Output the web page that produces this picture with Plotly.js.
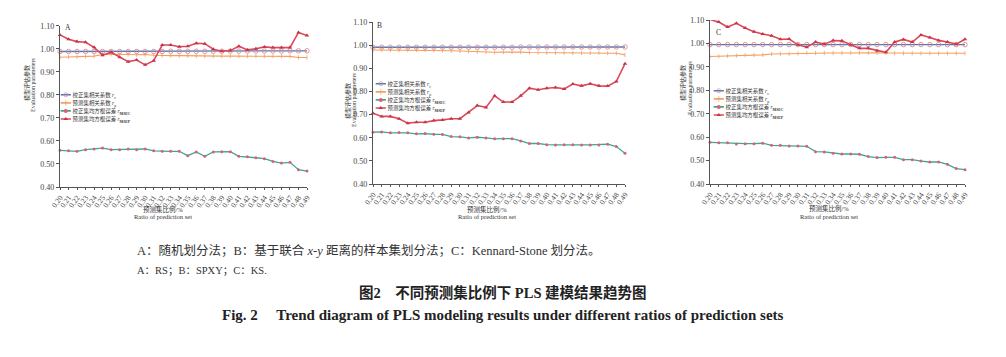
<!DOCTYPE html>
<html><head><meta charset="utf-8">
<script src="https://cdn.plot.ly/plotly-3.0.1.min.js"></script>
<style>html,body{margin:0;padding:0;background:#fff}</style>
</head><body><div id="chart" style="width:1006px;height:357px"></div>
<script>
// ---------------- data ----------------
const ratios = [0.20,0.21,0.22,0.23,0.24,0.25,0.26,0.27,0.28,0.29,0.30,0.31,0.32,0.33,0.34,0.35,0.36,0.37,0.38,0.39,0.40,0.41,0.42,0.43,0.44,0.45,0.46,0.47,0.48,0.49];
const tickLabels = ['0.20','0.21','0.22','0.23','0.24','0.25','0.26','0.27','0.28','0.29','0.30','0.31','0.32','0.33','0.34','0.35','0.36','0.37','0.38','0.39','0.40','0.41','0.42','0.43','0.44','0.45','0.46','0.47','0.48','0.49'];
const yTickVals = [0.40,0.50,0.60,0.70,0.80,0.90,1.00,1.10];

// Panel A: RS
const A_rc   = [0.988,0.988,0.988,0.988,0.988,0.988,0.988,0.988,0.988,0.988,0.988,0.988,0.988,0.989,0.989,0.989,0.989,0.989,0.989,0.989,0.990,0.990,0.990,0.990,0.990,0.990,0.990,0.991,0.991,0.991];
const A_rp   = [0.963,0.965,0.965,0.966,0.968,0.975,0.976,0.975,0.975,0.974,0.975,0.972,0.970,0.970,0.970,0.969,0.968,0.968,0.968,0.968,0.968,0.968,0.968,0.968,0.968,0.968,0.968,0.967,0.962,0.962];
const A_msec = [0.559,0.557,0.555,0.562,0.565,0.569,0.562,0.562,0.565,0.562,0.565,0.557,0.555,0.555,0.555,0.536,0.552,0.533,0.552,0.553,0.553,0.533,0.531,0.527,0.523,0.511,0.504,0.507,0.475,0.469];
const A_msep = [1.060,1.041,1.031,1.028,1.006,0.972,0.985,0.963,0.944,0.951,0.930,0.948,1.016,1.016,1.009,1.011,1.024,1.022,0.998,0.989,0.992,1.011,0.995,1.000,1.008,1.005,1.005,1.005,1.071,1.057];

// Panel B: SPXY
const B_rc   = [0.991,0.991,0.991,0.991,0.991,0.991,0.991,0.991,0.991,0.991,0.991,0.991,0.991,0.991,0.991,0.991,0.991,0.992,0.992,0.992,0.992,0.992,0.992,0.992,0.992,0.992,0.992,0.992,0.992,0.992];
const B_rp   = [0.979,0.979,0.979,0.979,0.979,0.979,0.979,0.978,0.977,0.976,0.975,0.973,0.972,0.971,0.969,0.970,0.971,0.970,0.968,0.968,0.967,0.967,0.967,0.966,0.966,0.966,0.967,0.965,0.965,0.958];
const B_msec = [0.624,0.625,0.621,0.622,0.621,0.617,0.618,0.615,0.614,0.605,0.604,0.599,0.602,0.599,0.595,0.596,0.596,0.586,0.575,0.575,0.570,0.569,0.570,0.570,0.569,0.569,0.569,0.572,0.562,0.533];
const B_msep = [0.706,0.692,0.692,0.682,0.663,0.667,0.667,0.674,0.677,0.682,0.682,0.709,0.739,0.731,0.781,0.754,0.754,0.781,0.814,0.807,0.814,0.817,0.811,0.832,0.824,0.833,0.824,0.823,0.843,0.920];

// Panel C: KS
const C_rc   = [0.995,0.995,0.995,0.995,0.995,0.995,0.995,0.995,0.995,0.995,0.995,0.995,0.995,0.995,0.995,0.995,0.995,0.995,0.995,0.995,0.995,0.995,0.995,0.995,0.995,0.995,0.995,0.995,0.995,0.995];
const C_rp   = [0.944,0.945,0.947,0.948,0.950,0.951,0.951,0.955,0.956,0.956,0.957,0.959,0.959,0.959,0.959,0.959,0.960,0.960,0.960,0.960,0.959,0.958,0.958,0.958,0.958,0.958,0.958,0.958,0.958,0.958];
const C_msec = [0.578,0.576,0.576,0.571,0.572,0.572,0.574,0.565,0.565,0.562,0.562,0.561,0.538,0.537,0.531,0.528,0.528,0.527,0.517,0.513,0.514,0.514,0.504,0.504,0.498,0.494,0.494,0.484,0.466,0.461];
const C_msep = [1.102,1.091,1.070,1.086,1.066,1.050,1.040,1.033,1.018,1.019,0.994,0.984,1.006,0.997,1.012,1.011,0.994,0.979,0.979,0.969,0.962,1.006,1.017,1.006,1.036,1.025,1.013,1.006,0.997,1.018];

const SUB = '<span style="font-size:70%;baseline-shift:sub">';
const seriesNames = [
  '校正集相关系数 <i>r</i>' + SUB + 'c</span>',
  '预测集相关系数 <i>r</i>' + SUB + 'p</span>',
  '校正集均方根误差 <i>r</i>' + SUB + '<b>MSEC</b></span>',
  '预测集均方根误差 <i>r</i>' + SUB + '<b>MSEP</b></span>'
];
const panelLetters = ['A','B','C'];
const xTitleCN = '预测集比例/%';
const xTitleEN = 'Ratio of prediction set';
const yTitleCN = '模型评估参数';
const yTitleEN = 'Evaluation parameters';
const caption1 = 'A：随机划分法；B：基于联合 <i>x</i>-<i>y</i> 距离的样本集划分法；C：Kennard-Stone 划分法。';
const caption2 = 'A：RS；B：SPXY；C：KS.';
const figTitleCN = '<b>图2　不同预测集比例下 PLS 建模结果趋势图</b>';
const figTitleEN = '<b>Fig. 2　 Trend diagram of PLS modeling results under different ratios of prediction sets</b>';

// ---------------- styling ----------------
const W = 1006, H = 357;
const FONT = '"Liberation Serif", "Times New Roman", "Noto Sans CJK SC", serif';
const px = v => v / W;
const py = v => 1 - v / H;
const LEG_SCALE = 0.34;

const styles = [
  {mode:'lines+markers', line:{color:'#4d78bb', width:1.3}, marker:{symbol:'circle-open', size:4.5, color:'#e48888', line:{width:0.9}}},
  {mode:'lines+markers', line:{color:'#f2a062', width:1.1}, marker:{symbol:'line-ns-open', size:3, color:'#f2a062', line:{width:0.8, color:'#f2a062'}}},
  {mode:'lines+markers', line:{color:'#3aab86', width:1.3}, marker:{symbol:'circle', size:3, color:'#d9607a'}},
  {mode:'lines+markers', line:{color:'#dc4a5a', width:1.6}, marker:{symbol:'triangle-up', size:4, color:'#c8344a'}}
];

const panels = [
  {data:[A_rc,A_rp,A_msec,A_msep], xd:[60,307], yd:[25.7,187], leg:[59,89], letter:[68,28], xt:[163,209,217], yt:[27,33,83,85]},
  {data:[B_rc,B_rp,B_msec,B_msep], xd:[373,625], yd:[22,184], leg:[374,78], letter:[379,26], xt:[487,209,217], yt:[348,354,101,100]},
  {data:[C_rc,C_rp,C_msec,C_msep], xd:[710,965], yd:[20,184], leg:[712,85], letter:[718,32], xt:[829,208,217], yt:[683,690,83,88]}
];

const traces = [];
const layout = {
  width: W, height: H,
  margin: {l:0, r:0, t:0, b:0, autoexpand:false},
  paper_bgcolor: '#fff', plot_bgcolor: '#fff',
  showlegend: true,
  font: {family: FONT, color: '#333'},
  annotations: []
};

panels.forEach((p, i) => {
  const s = i === 0 ? '' : String(i + 1);
  const legId = 'legend' + s;
  p.data.forEach((vals, k) => {
    traces.push(Object.assign({
      type: 'scatter', x: ratios, y: vals, name: seriesNames[k],
      xaxis: 'x' + s, yaxis: 'y' + s, legend: legId, cliponaxis: false, hoverinfo: 'skip'
    }, JSON.parse(JSON.stringify(styles[k]))));
  });
  layout['xaxis' + s] = {
    domain: [px(p.xd[0]), px(p.xd[1])], anchor: 'y' + s,
    range: [0.20, 0.49], tickmode: 'array', tickvals: ratios, ticktext: tickLabels,
    tickangle: -55, tickfont: {size: 7.5, family: FONT, color: '#444'},
    showline: true, linecolor: '#555', linewidth: 1.2, ticks: 'outside', ticklen: 2, tickcolor: '#555',
    showgrid: false, zeroline: false, fixedrange: true
  };
  layout['yaxis' + s] = {
    domain: [py(p.yd[1]), py(p.yd[0])], anchor: 'x' + s,
    range: [0.40, 1.10], tickmode: 'array', tickvals: yTickVals, tickformat: '.2f',
    tickfont: {size: 8, family: FONT, color: '#444'},
    showline: true, linecolor: '#555', linewidth: 1.2, ticks: 'outside', ticklen: 3, tickcolor: '#555',
    showgrid: false, zeroline: false, fixedrange: true
  };
  layout[legId] = {
    x: px(p.leg[0]), y: py(p.leg[1]), xanchor: 'left', yanchor: 'top',
    bgcolor: 'rgba(0,0,0,0)', borderwidth: 0, itemsizing: 'constant',
    font: {size: 16, family: FONT, color: '#333'}, tracegroupgap: 0, traceorder: 'normal'
  };
  const ann = layout.annotations;
  ann.push({xref:'paper', yref:'paper', x:px(p.letter[0]), y:py(p.letter[1]), text:panelLetters[i], showarrow:false, xanchor:'center', yanchor:'middle', font:{size:7.5, family:FONT, color:'#333'}});
  ann.push({xref:'paper', yref:'paper', x:px(p.xt[0]), y:py(p.xt[1]), text:xTitleCN, showarrow:false, xanchor:'center', yanchor:'middle', font:{size:6.5, family:FONT, color:'#333'}});
  ann.push({xref:'paper', yref:'paper', x:px(p.xt[0]), y:py(p.xt[2]), text:xTitleEN, showarrow:false, xanchor:'center', yanchor:'middle', font:{size:6.5, family:FONT, color:'#333'}});
  ann.push({xref:'paper', yref:'paper', x:px(p.yt[0]), y:py(p.yt[2]), text:yTitleCN, textangle:-90, showarrow:false, xanchor:'center', yanchor:'middle', font:{size:6, family:FONT, color:'#333'}});
  ann.push({xref:'paper', yref:'paper', x:px(p.yt[1]), y:py(p.yt[3]), text:yTitleEN, textangle:-90, showarrow:false, xanchor:'center', yanchor:'middle', font:{size:6, family:FONT, color:'#333'}});
});

layout.annotations.push(
  {xref:'paper', yref:'paper', x:px(135), y:py(251), text:caption1, showarrow:false, xanchor:'left', yanchor:'middle', font:{size:12.5, family:FONT, color:'#333'}},
  {xref:'paper', yref:'paper', x:px(135), y:py(270), text:caption2, showarrow:false, xanchor:'left', yanchor:'middle', font:{size:10.5, family:FONT, color:'#333'}},
  {xref:'paper', yref:'paper', x:px(503), y:py(292), text:figTitleCN, showarrow:false, xanchor:'center', yanchor:'middle', font:{size:14.5, family:FONT, color:'#222'}},
  {xref:'paper', yref:'paper', x:px(503), y:py(315), text:figTitleEN, showarrow:false, xanchor:'center', yanchor:'middle', font:{size:15, family:FONT, color:'#222'}}
);

const gd = document.getElementById('chart');
Plotly.newPlot(gd, traces, layout, {staticPlot: true, displayModeBar: false}).then(() => {
  // the reference legend is very compact: shrink each legend box as a whole
  gd.querySelectorAll('.infolayer > g').forEach(g => {
    const cls = g.getAttribute('class') || '';
    if (/^legend\d*$/.test(cls)) {
      const t = g.getAttribute('transform') || '';
      if (t.indexOf('scale') < 0) g.setAttribute('transform', t + ' scale(' + LEG_SCALE + ')');
    }
  });
});
</script></body></html>
